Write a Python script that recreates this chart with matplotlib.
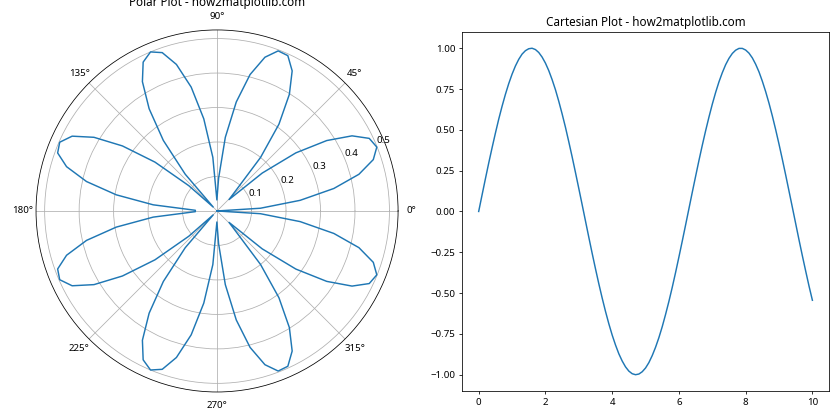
"""
Polar vs Cartesian comparison figure (how2matplotlib.com demo).

Left: rose-style curve on a polar axis. Right: a plain sine wave.
Saves out.png at 840x420.
"""

import matplotlib
matplotlib.use("Agg")  # headless backend
import matplotlib.pyplot as plt
import numpy as np

plt.rcParams["font.family"] = ["Noto Sans", "DejaVu Sans"]

# ---------------------------------------------------------------------------
# Data
# ---------------------------------------------------------------------------

# polar curve: angle (degrees) and radius
THETA_DEG = [
    0.0, 3.6, 7.3, 10.9, 14.5, 18.2, 21.8, 25.5, 29.1, 32.7,
    36.4, 40.0, 43.6, 47.3, 50.9, 54.5, 58.2, 61.8, 65.5, 69.1,
    72.7, 76.4, 80.0, 83.6, 87.3, 90.9, 94.5, 98.2, 101.8, 105.5,
    109.1, 112.7, 116.4, 120.0, 123.6, 127.3, 130.9, 134.5, 138.2, 141.8,
    145.5, 149.1, 152.7, 156.4, 160.0, 163.6, 167.3, 170.9, 174.5, 178.2,
    181.8, 185.5, 189.1, 192.7, 196.4, 200.0, 203.6, 207.3, 210.9, 214.5,
    218.2, 221.8, 225.5, 229.1, 232.7, 236.4, 240.0, 243.6, 247.3, 250.9,
    254.5, 258.2, 261.8, 265.5, 269.1, 272.7, 276.4, 280.0, 283.6, 287.3,
    290.9, 294.5, 298.2, 301.8, 305.5, 309.1, 312.7, 316.4, 320.0, 323.6,
    327.3, 330.9, 334.5, 338.2, 341.8, 345.5, 349.1, 352.7, 356.4, 360.0,
]
RADIUS = [
    0.000, 0.126, 0.243, 0.345, 0.425, 0.477, 0.499, 0.489, 0.448, 0.378,
    0.284, 0.171, 0.048, 0.079, 0.200, 0.309, 0.398, 0.461, 0.495, 0.497,
    0.467, 0.407, 0.321, 0.215, 0.095, 0.032, 0.156, 0.270, 0.367, 0.441,
    0.486, 0.500, 0.482, 0.433, 0.356, 0.257, 0.141, 0.016, 0.110, 0.229,
    0.333, 0.416, 0.473, 0.498, 0.492, 0.455, 0.388, 0.296, 0.186, 0.063,
    0.063, 0.186, 0.296, 0.388, 0.455, 0.492, 0.498, 0.473, 0.416, 0.333,
    0.229, 0.110, 0.016, 0.141, 0.257, 0.356, 0.433, 0.482, 0.500, 0.486,
    0.441, 0.367, 0.270, 0.156, 0.032, 0.095, 0.215, 0.321, 0.407, 0.467,
    0.497, 0.495, 0.461, 0.398, 0.309, 0.200, 0.079, 0.048, 0.171, 0.284,
    0.378, 0.448, 0.489, 0.499, 0.477, 0.425, 0.345, 0.243, 0.126, 0.000,
]

# cartesian curve
X_VALS = [
    0.0, 0.1, 0.2, 0.3, 0.4, 0.5, 0.6, 0.7, 0.8, 0.9,
    1.0, 1.1, 1.2, 1.3, 1.4, 1.5, 1.6, 1.7, 1.8, 1.9,
    2.0, 2.1, 2.2, 2.3, 2.4, 2.5, 2.6, 2.7, 2.8, 2.9,
    3.0, 3.1, 3.2, 3.3, 3.4, 3.5, 3.6, 3.7, 3.8, 3.9,
    4.0, 4.1, 4.2, 4.3, 4.4, 4.5, 4.6, 4.7, 4.8, 4.9,
    5.0, 5.1, 5.2, 5.3, 5.4, 5.5, 5.6, 5.7, 5.8, 5.9,
    6.0, 6.1, 6.2, 6.3, 6.4, 6.5, 6.6, 6.7, 6.8, 6.9,
    7.0, 7.1, 7.2, 7.3, 7.4, 7.5, 7.6, 7.7, 7.8, 7.9,
    8.0, 8.1, 8.2, 8.3, 8.4, 8.5, 8.6, 8.7, 8.8, 8.9,
    9.0, 9.1, 9.2, 9.3, 9.4, 9.5, 9.6, 9.7, 9.8, 9.9,
    10.0,
]
Y_VALS = [
    0.000, 0.100, 0.199, 0.296, 0.389, 0.479, 0.565, 0.644, 0.717, 0.783,
    0.841, 0.891, 0.932, 0.964, 0.985, 0.997, 1.000, 0.992, 0.974, 0.946,
    0.909, 0.863, 0.808, 0.746, 0.675, 0.598, 0.516, 0.427, 0.335, 0.239,
    0.141, 0.042, -0.058, -0.158, -0.256, -0.351, -0.443, -0.530, -0.612, -0.688,
    -0.757, -0.818, -0.872, -0.916, -0.952, -0.978, -0.994, -1.000, -0.996, -0.982,
    -0.959, -0.926, -0.883, -0.832, -0.773, -0.706, -0.631, -0.551, -0.465, -0.374,
    -0.279, -0.182, -0.083, 0.017, 0.117, 0.215, 0.312, 0.405, 0.494, 0.578,
    0.657, 0.729, 0.794, 0.850, 0.899, 0.938, 0.968, 0.988, 0.999, 0.999,
    0.989, 0.970, 0.941, 0.902, 0.855, 0.798, 0.734, 0.663, 0.585, 0.501,
    0.412, 0.319, 0.223, 0.124, 0.025, -0.075, -0.175, -0.272, -0.366, -0.458,
    -0.544,
]


# ---------------------------------------------------------------------------
# Figure
# ---------------------------------------------------------------------------

fig = plt.figure(figsize=(12, 6), dpi=70)

# polar panel (square box, circle centred near x=217px)
ax1 = fig.add_axes([0.0429, 0.0667, 0.431, 0.862], projection="polar")
ax1.plot(np.deg2rad(THETA_DEG), RADIUS)
ax1.set_title("Polar Plot - how2matplotlib.com", fontsize=12)

# cartesian panel
ax2 = fig.add_axes([0.55, 0.069, 0.437, 0.855])
ax2.plot(X_VALS, Y_VALS)
ax2.set_title("Cartesian Plot - how2matplotlib.com", fontsize=12)

fig.savefig("out.png", dpi=70)
